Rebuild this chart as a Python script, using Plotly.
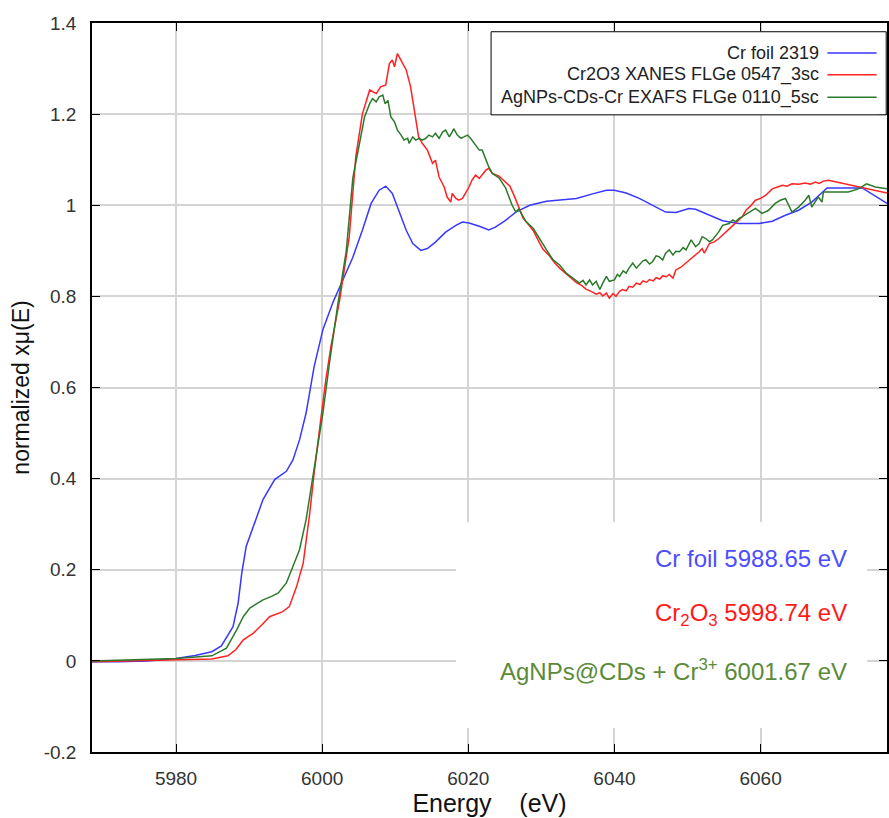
import plotly.graph_objects as go

# ---------------- data ----------------
foil_E = [5968.5, 5972.0, 5976.0, 5980.0, 5982.6, 5984.0, 5984.9, 5986.2, 5987.1, 5987.8,
          5988.5, 5989.0, 5989.6, 5990.6, 5991.9, 5993.5, 5995.1, 5996.0, 5996.9, 5997.8,
          5998.9, 6000.1, 6001.5, 6002.8, 6004.2, 6005.5, 6006.7, 6007.8, 6008.7, 6009.6,
          6010.5, 6011.5, 6012.4, 6013.5, 6014.4, 6015.5, 6016.9, 6018.3, 6019.2, 6020.1,
          6021.5, 6022.8, 6023.7, 6025.1, 6026.5, 6028.4, 6030.7, 6032.5, 6034.8, 6037.0,
          6038.9, 6040.0, 6041.6, 6043.4, 6045.2, 6047.0, 6048.4, 6050.2, 6051.1, 6053.0,
          6054.8, 6057.0, 6059.8, 6061.6, 6063.4, 6065.2, 6067.0, 6069.1, 6073.9, 6077.3]
foil_mu = [-0.002, -0.002, 0.000, 0.005, 0.012, 0.017, 0.020, 0.033, 0.055, 0.075,
           0.127, 0.193, 0.251, 0.295, 0.354, 0.398, 0.416, 0.441, 0.485, 0.544,
           0.646, 0.727, 0.788, 0.835, 0.886, 0.945, 1.004, 1.033, 1.042, 1.026,
           0.989, 0.945, 0.916, 0.901, 0.905, 0.919, 0.941, 0.956, 0.963, 0.961,
           0.954, 0.946, 0.952, 0.967, 0.985, 1.000, 1.009, 1.011, 1.015, 1.025,
           1.033, 1.033, 1.027, 1.015, 1.000, 0.985, 0.984, 0.993, 0.991, 0.978,
           0.966, 0.960, 0.960, 0.965, 0.978, 0.989, 1.007, 1.038, 1.038, 1.004]

cr2o3_E = [5968.5, 5975.0, 5980.0, 5984.9, 5987.1, 5988.2, 5989.2, 5990.6, 5991.8, 5992.8,
           5994.6, 5995.5, 5996.5, 5997.4, 5998.3, 5998.9, 5999.8, 6000.5, 6001.2, 6002.4,
           6003.7, 6004.6, 6005.5, 6006.5, 6007.4, 6008.0, 6008.7, 6009.2, 6009.6, 6009.9,
           6010.3, 6010.8, 6011.5, 6012.1, 6012.8, 6013.2, 6013.7, 6014.4, 6015.1, 6015.5,
           6016.0, 6016.7, 6017.1, 6017.6, 6017.8, 6018.3, 6018.7, 6019.2, 6019.6, 6020.1,
           6020.5, 6021.0, 6021.5, 6021.9, 6022.4, 6022.8, 6023.3, 6024.2, 6025.1, 6025.7,
           6026.3, 6026.8, 6027.5, 6028.2, 6028.9, 6029.6, 6030.2, 6031.1, 6031.8, 6032.5,
           6033.4, 6034.1, 6034.8, 6035.5, 6036.1, 6036.8, 6037.5, 6038.0, 6038.4, 6038.9,
           6039.3, 6039.8, 6040.2, 6040.7, 6041.1, 6041.6, 6042.0, 6042.5, 6043.0, 6043.5,
           6043.9, 6044.4, 6044.8, 6045.3, 6045.7, 6046.2, 6046.6, 6047.1, 6047.5, 6048.0,
           6048.4, 6049.1, 6049.8, 6050.5, 6051.1, 6051.6, 6052.0, 6052.3, 6053.0, 6053.6,
           6054.3, 6055.0, 6055.7, 6056.3, 6057.0, 6057.5, 6058.0, 6058.6, 6059.3, 6060.0,
           6060.7, 6061.2, 6061.6, 6062.3, 6063.0, 6063.6, 6064.3, 6065.2, 6066.1, 6066.8,
           6067.5, 6068.0, 6068.6, 6069.3, 6071.6, 6073.9, 6077.3]
cr2o3_mu = [-0.002, 0.000, 0.001, 0.004, 0.011, 0.025, 0.046, 0.061, 0.080, 0.097,
            0.108, 0.119, 0.163, 0.214, 0.324, 0.412, 0.529, 0.617, 0.690, 0.793,
            0.930, 1.106, 1.200, 1.253, 1.245, 1.260, 1.264, 1.311, 1.319, 1.304,
            1.333, 1.319, 1.297, 1.260, 1.194, 1.150, 1.136, 1.121, 1.092, 1.099,
            1.062, 1.040, 1.018, 1.007, 1.026, 1.015, 1.011, 1.015, 1.026, 1.040,
            1.055, 1.066, 1.059, 1.066, 1.077, 1.081, 1.070, 1.064, 1.050, 1.042,
            1.020, 1.000, 0.972, 0.958, 0.944, 0.922, 0.904, 0.889, 0.874, 0.862,
            0.849, 0.840, 0.830, 0.824, 0.816, 0.811, 0.805, 0.808, 0.801, 0.807,
            0.796, 0.806, 0.800, 0.811, 0.815, 0.812, 0.822, 0.820, 0.829, 0.826,
            0.834, 0.831, 0.837, 0.834, 0.841, 0.838, 0.845, 0.843, 0.848, 0.840,
            0.858, 0.864, 0.873, 0.882, 0.891, 0.898, 0.905, 0.895, 0.916, 0.919,
            0.927, 0.938, 0.949, 0.957, 0.967, 0.975, 0.989, 0.998, 1.011, 1.015,
            1.022, 1.030, 1.036, 1.040, 1.044, 1.042, 1.047, 1.046, 1.049, 1.046,
            1.051, 1.048, 1.053, 1.055, 1.047, 1.040, 1.027]

agnps_E = [5968.5, 5975.0, 5980.0, 5984.9, 5986.9, 5988.3, 5989.2, 5990.1, 5991.0, 5991.9,
           5993.0, 5994.0, 5995.1, 5996.0, 5996.9, 5997.8, 5998.5, 5999.2, 6000.1, 6001.0,
           6002.1, 6003.3, 6004.2, 6005.1, 6005.8, 6006.5, 6006.9, 6007.4, 6007.8, 6008.3,
           6008.6, 6009.0, 6009.4, 6009.9, 6010.3, 6010.8, 6011.2, 6011.7, 6011.9, 6012.4,
           6012.8, 6013.3, 6013.7, 6014.2, 6014.6, 6015.1, 6015.5, 6016.0, 6016.5, 6016.9,
           6017.4, 6017.8, 6018.0, 6018.5, 6019.0, 6019.4, 6019.9, 6020.3, 6020.8, 6021.5,
           6021.9, 6022.4, 6022.8, 6023.3, 6024.2, 6025.1, 6026.0, 6026.5, 6026.9, 6027.4,
           6027.9, 6028.9, 6029.8, 6030.7, 6031.6, 6032.5, 6033.4, 6034.3, 6035.2, 6035.7,
           6036.1, 6036.6, 6037.0, 6037.5, 6038.0, 6038.4, 6038.9, 6039.3, 6040.0, 6040.4,
           6040.7, 6041.2, 6041.6, 6042.0, 6042.5, 6043.0, 6043.4, 6043.9, 6044.3, 6044.8,
           6045.2, 6045.7, 6046.1, 6046.6, 6047.0, 6047.5, 6048.0, 6048.4, 6048.9, 6049.4,
           6049.8, 6050.5, 6051.1, 6051.6, 6052.0, 6052.5, 6053.0, 6053.4, 6054.3, 6054.8,
           6055.7, 6056.2, 6056.6, 6057.1, 6057.5, 6058.0, 6058.4, 6059.3, 6060.2, 6061.1,
           6062.0, 6062.7, 6063.4, 6064.3, 6065.2, 6066.1, 6066.6, 6067.0, 6067.9, 6068.4,
           6068.6, 6072.0, 6073.4, 6074.5, 6075.7, 6077.3]
agnps_mu = [0.000, 0.002, 0.005, 0.011, 0.028, 0.068, 0.097, 0.116, 0.126, 0.134,
            0.141, 0.149, 0.171, 0.207, 0.244, 0.310, 0.383, 0.456, 0.544, 0.654,
            0.778, 0.900, 1.060, 1.135, 1.194, 1.223, 1.234, 1.227, 1.238, 1.242,
            1.223, 1.230, 1.194, 1.183, 1.165, 1.154, 1.143, 1.147, 1.136, 1.150,
            1.143, 1.147, 1.143, 1.147, 1.154, 1.150, 1.158, 1.147, 1.161, 1.165,
            1.150, 1.161, 1.168, 1.154, 1.147, 1.150, 1.154, 1.147, 1.136, 1.121,
            1.121, 1.099, 1.084, 1.070, 1.060, 1.038, 1.000, 0.985, 0.992, 0.978,
            0.964, 0.949, 0.924, 0.902, 0.880, 0.869, 0.851, 0.840, 0.829, 0.835,
            0.825, 0.836, 0.825, 0.833, 0.815, 0.829, 0.844, 0.833, 0.836, 0.848,
            0.844, 0.856, 0.851, 0.862, 0.873, 0.862, 0.869, 0.878, 0.880, 0.871,
            0.876, 0.889, 0.887, 0.880, 0.895, 0.902, 0.891, 0.899, 0.898, 0.907,
            0.902, 0.924, 0.909, 0.916, 0.931, 0.927, 0.920, 0.924, 0.942, 0.956,
            0.960, 0.968, 0.964, 0.972, 0.975, 0.980, 0.985, 0.993, 0.982, 0.989,
            1.004, 1.011, 1.015, 0.985, 0.996, 1.011, 1.022, 0.996, 1.018, 1.007,
            1.029, 1.029, 1.036, 1.047, 1.040, 1.036]

series_names = ["Cr foil 2319", "Cr2O3 XANES FLGe 0547_3sc", "AgNPs-CDs-Cr EXAFS FLGe 0110_5sc"]
edge_labels = ["Cr foil 5988.65 eV",
               "Cr<sub>2</sub>O<sub>3</sub> 5998.74 eV",
               "AgNPs@CDs + Cr<sup>3+</sup> 6001.67 eV"]
x_ticks = [5980, 6000, 6020, 6040, 6060]
y_ticks = [-0.2, 0, 0.2, 0.4, 0.6, 0.8, 1, 1.2, 1.4]
y_tick_text = ["-0.2", "0", "0.2", "0.4", "0.6", "0.8", "1", "1.2", "1.4"]

# ---------------- styling ----------------
line_colors = ["#3838ff", "#ff2222", "#2b7a2b"]
label_colors = ["#4d4dff", "#ff1a1a", "#5b8a3a"]
FONT = "Liberation Sans, Arial, sans-serif"
NARROW = "Liberation Sans Narrow, Arial Narrow, Liberation Sans, sans-serif"

fig = go.Figure()
for E, mu, name, col in zip([foil_E, cr2o3_E, agnps_E], [foil_mu, cr2o3_mu, agnps_mu],
                            series_names, line_colors):
    fig.add_trace(go.Scatter(x=E, y=mu, mode="lines", name=name,
                             line=dict(color=col, width=1.5), showlegend=False))

axis_common = dict(showline=True, linecolor="black", linewidth=1.5, mirror="ticks",
                   ticks="inside", ticklen=8, tickcolor="black", tickwidth=1.2,
                   showgrid=True, gridcolor="#d4d4d4", gridwidth=1.5, zeroline=False,
                   tickfont=dict(family=NARROW, size=19, color="#333333"))

fig.update_layout(
    width=889, height=818,
    margin=dict(l=92, r=0, t=23, b=66),
    paper_bgcolor="white", plot_bgcolor="white",
    font=dict(family=FONT, color="#222222"),
    xaxis=dict(range=[5968.5, 6077.3], tickvals=x_ticks, ticklabelstandoff=8,
               title=dict(text="Energy&nbsp;&nbsp;&nbsp;&nbsp;(eV)",
                          font=dict(family=FONT, size=25, color="#111111"), standoff=4),
               **axis_common),
    yaxis=dict(range=[-0.2, 1.4], tickvals=y_ticks, ticktext=y_tick_text, ticklabelstandoff=10,
               title=dict(text="normalized xμ(E)",
                          font=dict(family=FONT, size=23, color="#111111"), standoff=8),
               **axis_common),
)

# white panel behind the edge-energy labels
fig.add_shape(type="rect", xref="paper", yref="paper", x0=0.458, x1=0.975, y0=0.033, y1=0.3155,
              fillcolor="white", line=dict(width=0), layer="above")

for txt, col, yp in zip(edge_labels, label_colors, [0.265, 0.188, 0.112]):
    fig.add_annotation(text=txt, xref="paper", yref="paper", x=0.952, y=yp,
                       xanchor="right", yanchor="middle", showarrow=False,
                       font=dict(family=FONT, size=24, color=col))

# custom legend (labels on the left, line samples on the right)
fig.add_shape(type="rect", xref="paper", yref="paper", x0=0.502, x1=0.999, y0=0.874, y1=0.988,
              fillcolor="white", line=dict(color="black", width=1), layer="above")
for name, col, yp in zip(series_names, line_colors, [0.959, 0.929, 0.898]):
    fig.add_annotation(text=name, xref="paper", yref="paper", x=0.917, y=yp,
                       xanchor="right", yanchor="middle", showarrow=False,
                       font=dict(family=FONT, size=18, color="#222222"))
    fig.add_shape(type="line", xref="paper", yref="paper", x0=0.925, x1=0.987, y0=yp, y1=yp,
                  line=dict(color=col, width=1.5), layer="above")

fig.write_html("out.html")
